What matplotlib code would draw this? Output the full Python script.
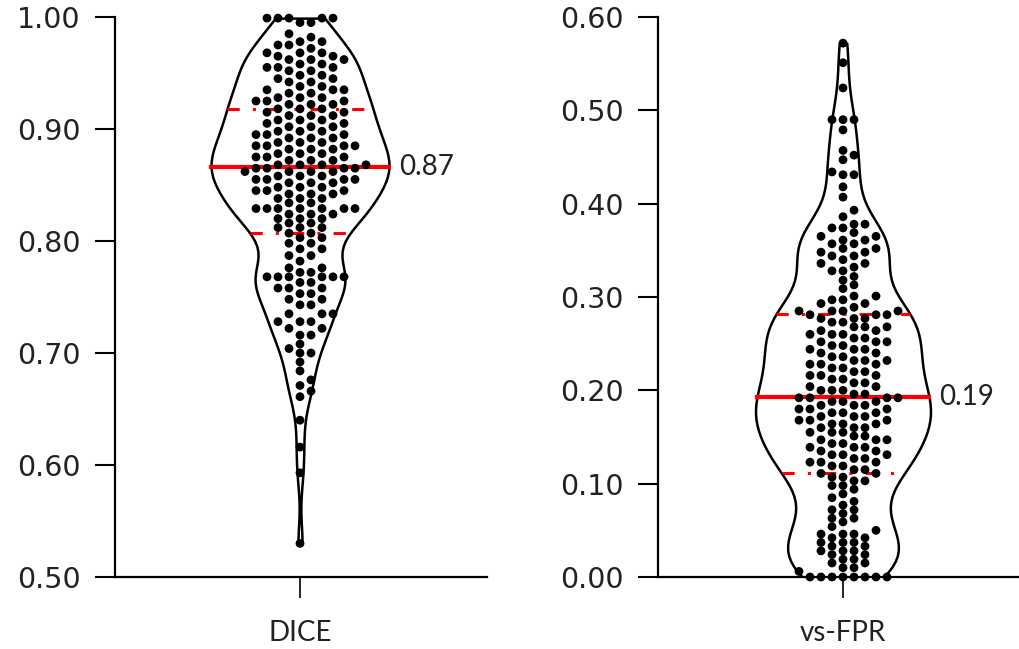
import matplotlib
matplotlib.use("Agg")
import matplotlib.pyplot as plt
import numpy as np

plt.rcParams["font.family"] = "DejaVu Sans"

dice_levels = [0.999, 0.995, 0.985, 0.982, 0.978, 0.975, 0.972,
               0.968, 0.965, 0.962, 0.958, 0.955, 0.952,
               0.948, 0.945, 0.942, 0.938, 0.935, 0.932,
               0.928, 0.925, 0.922, 0.918, 0.915, 0.912,
               0.908, 0.905, 0.902, 0.898, 0.895, 0.892,
               0.888, 0.885, 0.882, 0.878, 0.875, 0.872,
               0.868, 0.865, 0.862, 0.858, 0.855, 0.852,
               0.848, 0.845, 0.842, 0.838, 0.834, 0.829,
               0.824, 0.820, 0.816, 0.812, 0.807, 0.803,
               0.798, 0.793, 0.787, 0.782, 0.776, 0.772,
               0.768, 0.763, 0.758, 0.753, 0.748, 0.743,
               0.735, 0.728, 0.722, 0.716, 0.708, 0.704, 0.700,
               0.692, 0.684, 0.676, 0.671, 0.666, 0.661,
               0.640, 0.616, 0.593, 0.530]
dice_counts = [5, 2, 1, 1, 2, 2, 1,
               3, 2, 3, 2, 3, 2,
               2, 2, 2, 2, 3, 2,
               3, 3, 3, 3, 2, 3,
               3, 2, 3, 3, 3, 3,
               3, 4, 3, 3, 3, 3,
               4, 4, 4, 3, 4, 3,
               3, 3, 3, 3, 2, 7,
               3, 3, 2, 3, 2, 2,
               2, 2, 2, 1, 2, 2,
               6, 2, 3, 2, 2, 2,
               3, 3, 2, 2, 1, 1, 2,
               1, 1, 1, 1, 1, 1,
               1, 1, 1, 1]
dice_quartiles = [0.807, 0.866, 0.918]   # Q1, median, Q3

# vs-FPR
fpr_levels = [0.572, 0.551, 0.524, 0.490, 0.479, 0.457, 0.452, 0.447,
              0.434, 0.431, 0.418, 0.407, 0.393, 0.386,
              0.378, 0.374, 0.369, 0.365, 0.361, 0.357, 0.352, 0.348,
              0.344, 0.340, 0.336, 0.332, 0.328, 0.322, 0.318, 0.313,
              0.309, 0.301, 0.297, 0.293, 0.289, 0.285, 0.281, 0.277,
              0.273, 0.268, 0.264, 0.260, 0.256, 0.252, 0.248, 0.244,
              0.240, 0.236, 0.232, 0.228, 0.224, 0.220, 0.216, 0.212,
              0.208, 0.204, 0.200, 0.196, 0.192, 0.188, 0.184, 0.180,
              0.176, 0.172, 0.168, 0.164, 0.160, 0.155, 0.151, 0.147,
              0.143, 0.139, 0.135, 0.131, 0.127, 0.123, 0.119, 0.115,
              0.111, 0.107, 0.103, 0.098, 0.094, 0.089, 0.085, 0.081,
              0.077, 0.072, 0.068, 0.063, 0.059, 0.054, 0.050, 0.046,
              0.042, 0.037, 0.033, 0.028, 0.024, 0.019, 0.015, 0.010,
              0.006, 0.000]
fpr_counts = [1, 1, 1, 3, 1, 1, 1, 1,
              1, 2, 1, 1, 1, 1,
              2, 2, 1, 2, 2, 2, 2, 2,
              2, 1, 2, 1, 2, 1, 1, 1,
              1, 2, 2, 2, 1, 4, 3, 3,
              2, 3, 2, 3, 2, 3, 2, 3,
              2, 2, 3, 3, 2, 2, 3, 2,
              2, 2, 3, 2, 4, 3, 3, 3,
              3, 3, 3, 3, 3, 3, 2, 3,
              2, 3, 2, 3, 2, 3, 2, 2,
              2, 2, 2, 2, 1, 1, 1, 1,
              1, 2, 1, 2, 1, 1, 1, 3,
              2, 3, 2, 3, 2, 2, 2, 2,
              1, 8]
fpr_quartiles = [0.111, 0.193, 0.282]

panels = [
    ("DICE", dice_levels, dice_counts, dice_quartiles, (0.5, 1.0),
     np.arange(0.5, 1.001, 0.1)),
    ("vs-FPR", fpr_levels, fpr_counts, fpr_quartiles, (0.0, 0.6),
     np.arange(0.0, 0.601, 0.1)),
]

W, H = 1019, 649
fig = plt.figure(figsize=(W / 100, H / 100), dpi=100)

# axes boxes in pixels: left, right, centre of the violin
boxes = [(115, 487, 300), (658, 1019, 843)]
top, bottom = 17, 577
violin_w = [178, 175]
bandwidths = [0.2, 0.21]
dot_px = 8.5
slot_px = 11.0


def swarm(vals, dy):
    # put each point in the nearest free column slot
    order = np.argsort(vals)
    slots = np.zeros(len(vals))
    placed = {}
    for i in order:
        y = vals[i]
        k = 0
        while True:
            for s in ([0] if k == 0 else [k, -k]):
                ys = placed.get(s, [])
                if all(abs(y - o) >= dy for o in ys):
                    placed.setdefault(s, []).append(y)
                    slots[i] = s
                    break
            else:
                k += 1
                continue
            break
    return slots


for (name, levels, counts, quart, ylim, yticks), (x0, x1, xc), vw, bw in zip(
        panels, boxes, violin_w, bandwidths):
    ax = fig.add_axes([x0 / W, 1 - bottom / H, (x1 - x0) / W, (bottom - top) / H])
    ax.set_xlim(x0 - xc, x1 - xc)   # one x unit = one pixel
    ax.set_ylim(*ylim)
    vals = np.repeat(levels, counts)

    vp = ax.violinplot(vals, positions=[0], widths=vw, showextrema=False,
                       bw_method=bw)
    body = vp["bodies"][0]
    body.set_facecolor("white")
    body.set_edgecolor("black")
    body.set_linewidth(1.8)
    body.set_alpha(1)
    body.set_zorder(1)

    verts = body.get_paths()[0].vertices
    right = verts[verts[:, 0] >= 0]
    right = right[np.argsort(right[:, 1])]

    def half(y):
        return np.interp(y, right[:, 1], right[:, 0])

    q1, med, q3 = quart
    for q in (q1, q3):
        hw = half(q)
        ax.plot([-hw, hw], [q, q], color="red", lw=2.2,
                linestyle=(0, (4, 4.3, 1, 4.3)), zorder=2)
    hw = half(med)
    ax.plot([-hw, hw], [med, med], color="red", lw=3, zorder=2)
    ax.text(hw + 10, med, f"{med:.2f}", fontsize=20, family="Lato",
            va="center", ha="left", color="#222222")

    dy = dot_px * (ylim[1] - ylim[0]) / (bottom - top)
    xs = swarm(vals, dy * 0.95) * slot_px
    ax.scatter(xs, vals, s=40, color="black", edgecolors="none", zorder=3,
               clip_on=False)

    for side in ("top", "right"):
        ax.spines[side].set_visible(False)
    for side in ("left", "bottom"):
        ax.spines[side].set_linewidth(1.6)
    ax.set_yticks(yticks)
    ax.set_yticklabels([f"{t:.2f}" for t in yticks], fontsize=20.5,
                       family="DejaVu Sans", color="#222222")
    ax.set_xticks([0])
    ax.set_xticklabels([name], fontsize=20, family="Lato", color="#222222")
    ax.tick_params(axis="y", length=14.4, width=1.5, pad=10.5)
    ax.tick_params(axis="x", length=15, width=1.2, pad=16)

fig.savefig("out.png", dpi=100)
